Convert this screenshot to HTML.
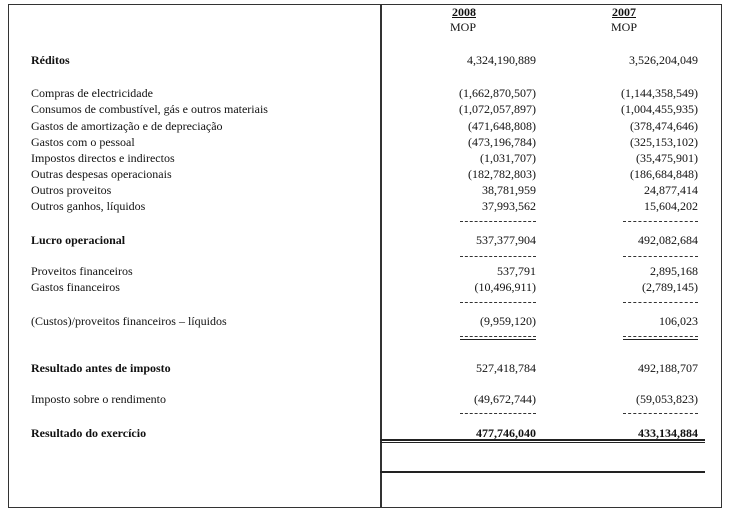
<!DOCTYPE html>
<html><head><meta charset="utf-8"><style>
html,body{margin:0;padding:0;background:#fff;}
body{width:736px;height:516px;position:relative;overflow:hidden;font-family:"Liberation Serif",serif;font-size:12px;color:#111;}
.l{position:absolute;left:31px;line-height:14px;white-space:nowrap;}
.a{position:absolute;right:200px;line-height:14px;white-space:nowrap;}
.b{position:absolute;right:38px;line-height:14px;white-space:nowrap;}
.bd{font-weight:bold;}
.d{position:absolute;height:0;border-top:1px dashed #333;}
.s{position:absolute;height:0;border-top:2px solid #222;}
.box{position:absolute;border:1.5px solid #333;}
</style></head><body>
<div class="box" style="left:8px;top:4px;width:712px;height:502px;"></div>
<div style="position:absolute;left:380px;top:4px;width:1.5px;height:504px;background:#333;"></div>
<div style="position:absolute;left:452px;top:5px;font-weight:bold;text-decoration:underline;line-height:14px;">2008</div>
<div style="position:absolute;left:450px;top:20px;line-height:14px;">MOP</div>
<div style="position:absolute;left:612px;top:5px;font-weight:bold;text-decoration:underline;line-height:14px;">2007</div>
<div style="position:absolute;left:611px;top:20px;line-height:14px;">MOP</div>

<div class="l bd" style="top:53px">Réditos</div><div class="a" style="top:53px">4,324,190,889</div><div class="b" style="top:53px">3,526,204,049</div>

<div class="l" style="top:86px">Compras de electricidade</div><div class="a" style="top:86px">(1,662,870,507)</div><div class="b" style="top:86px">(1,144,358,549)</div>
<div class="l" style="top:102px">Consumos de combustível, gás e outros materiais</div><div class="a" style="top:102px">(1,072,057,897)</div><div class="b" style="top:102px">(1,004,455,935)</div>
<div class="l" style="top:119px">Gastos de amortização e de depreciação</div><div class="a" style="top:119px">(471,648,808)</div><div class="b" style="top:119px">(378,474,646)</div>
<div class="l" style="top:135px">Gastos com o pessoal</div><div class="a" style="top:135px">(473,196,784)</div><div class="b" style="top:135px">(325,153,102)</div>
<div class="l" style="top:151px">Impostos directos e indirectos</div><div class="a" style="top:151px">(1,031,707)</div><div class="b" style="top:151px">(35,475,901)</div>
<div class="l" style="top:167px">Outras despesas operacionais</div><div class="a" style="top:167px">(182,782,803)</div><div class="b" style="top:167px">(186,684,848)</div>
<div class="l" style="top:183px">Outros proveitos</div><div class="a" style="top:183px">38,781,959</div><div class="b" style="top:183px">24,877,414</div>
<div class="l" style="top:199px">Outros ganhos, líquidos</div><div class="a" style="top:199px">37,993,562</div><div class="b" style="top:199px">15,604,202</div>
<div class="d" style="left:460px;width:76px;top:221px"></div><div class="d" style="left:623px;width:75px;top:221px"></div>

<div class="l bd" style="top:233px">Lucro operacional</div><div class="a" style="top:233px">537,377,904</div><div class="b" style="top:233px">492,082,684</div>
<div class="d" style="left:460px;width:76px;top:256px"></div><div class="d" style="left:623px;width:75px;top:256px"></div>

<div class="l" style="top:264px">Proveitos financeiros</div><div class="a" style="top:264px">537,791</div><div class="b" style="top:264px">2,895,168</div>
<div class="l" style="top:280px">Gastos financeiros</div><div class="a" style="top:280px">(10,496,911)</div><div class="b" style="top:280px">(2,789,145)</div>
<div class="d" style="left:460px;width:76px;top:302px"></div><div class="d" style="left:623px;width:75px;top:302px"></div>

<div class="l" style="top:314px">(Custos)/proveitos financeiros – líquidos</div><div class="a" style="top:314px">(9,959,120)</div><div class="b" style="top:314px">106,023</div>
<div class="d" style="left:460px;width:76px;top:336px"></div><div class="d" style="left:623px;width:75px;top:336px"></div>
<div class="s" style="left:460px;width:76px;top:339px;border-top-width:1.5px"></div><div class="s" style="left:623px;width:75px;top:339px;border-top-width:1.5px"></div>

<div class="l bd" style="top:361px">Resultado antes de imposto</div><div class="a" style="top:361px">527,418,784</div><div class="b" style="top:361px">492,188,707</div>
<div class="l" style="top:392px">Imposto sobre o rendimento</div><div class="a" style="top:392px">(49,672,744)</div><div class="b" style="top:392px">(59,053,823)</div>
<div class="d" style="left:460px;width:76px;top:413px"></div><div class="d" style="left:623px;width:75px;top:413px"></div>

<div class="l bd" style="top:426px">Resultado do exercício</div><div class="a bd" style="top:426px">477,746,040</div><div class="b bd" style="top:426px">433,134,884</div>
<div class="s" style="left:380px;width:325px;top:439px"></div>
<div class="s" style="left:380px;width:325px;top:442px;border-top-width:1px"></div>
<div class="s" style="left:380px;width:325px;top:471px"></div>
</body></html>
